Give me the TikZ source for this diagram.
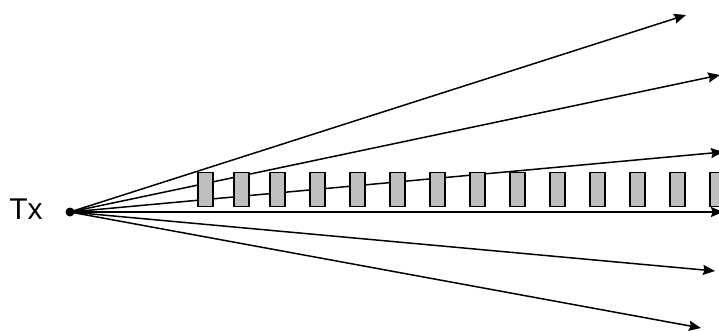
\documentclass[tikz,border=0pt]{standalone}
\usepackage{fontspec}
\setmainfont{Liberation Sans}
\usetikzlibrary{arrows.meta}
\begin{document}
\begin{tikzpicture}[x=1pt,y=-1pt,
  ray/.style={-{Stealth[length=12pt,width=10pt,inset=1.5pt]},line width=1.5pt},
  slab/.style={draw,fill=black!25,line width=1.8pt,minimum width=15pt,
    minimum height=34pt,inner sep=0pt,outer sep=0pt}
]
\clip (0,0) rectangle (719,331);

% transmitter
\coordinate (tx) at (70,212);
\node[font=\fontsize{30}{32}\selectfont,inner sep=0pt] (txlabel) at (26,209) {Tx};

% ray end points
\coordinate (e1) at (686,15);
\coordinate (e2) at (720,75);
\coordinate (e3) at (723,152);
\coordinate (e4) at (723,212);
\coordinate (e5) at (715,271);
\coordinate (e6) at (701,328);

\foreach \i in {1,...,6}
  \draw[ray] (tx) -- (e\i);

% slabs in front of the rays
\foreach \x [count=\k] in {205.5,241.5,277.5,317.5,357.5,397.5,437.5,477.5,517.5,557.5,597.5,637.5,677.5,717.5}
  \node[slab] (s\k) at (\x,189.5) {};

\fill (tx) circle (4.5pt);
\end{tikzpicture}
\end{document}
